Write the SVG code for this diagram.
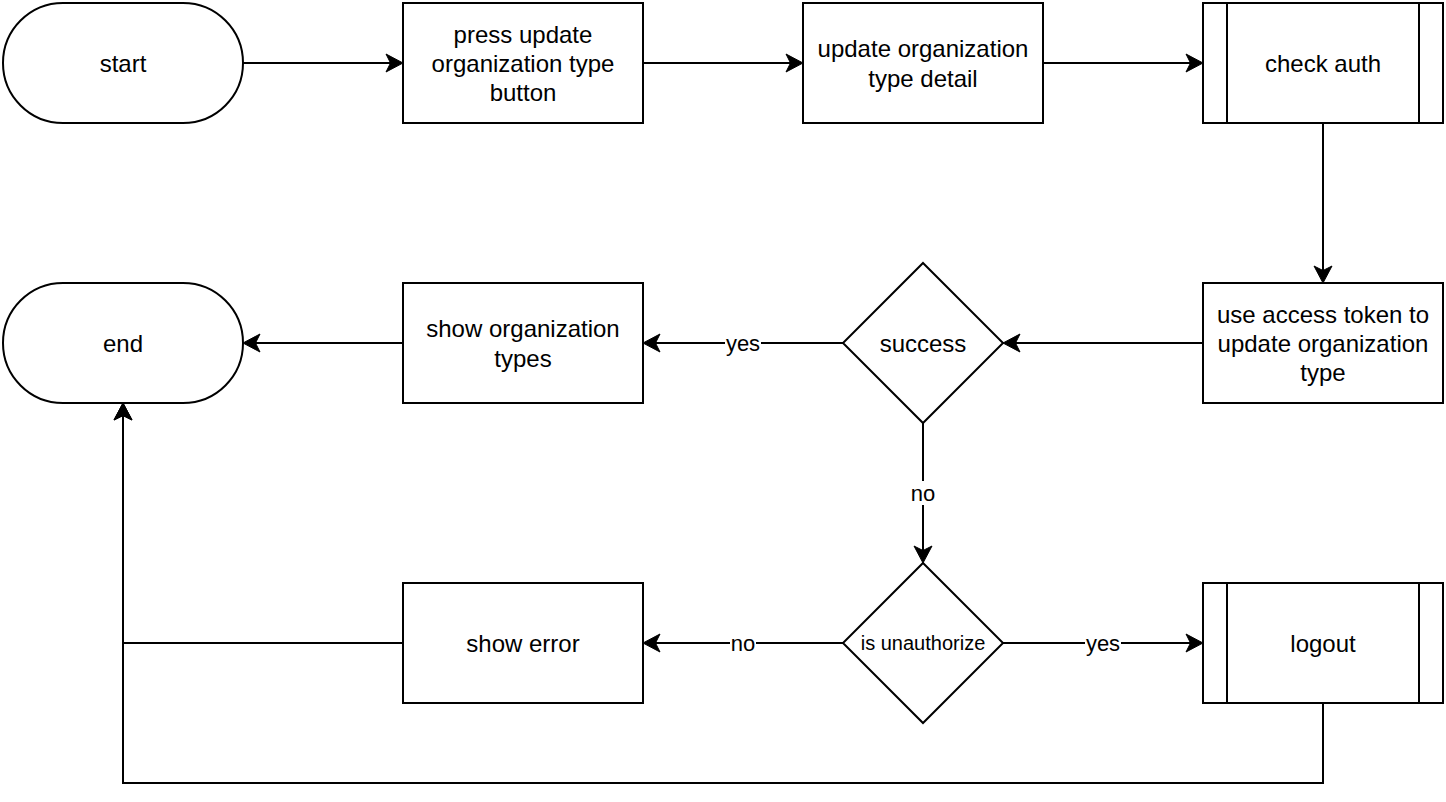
<svg xmlns="http://www.w3.org/2000/svg" width="1446" height="802" viewBox="0 0 1446 802">
<style>
.n{fill:#fff;stroke:#000;stroke-width:2}
.t{font-family:"Liberation Sans",Arial,sans-serif;font-size:24px;fill:#000;text-anchor:middle}
.s{font-size:20px}
.e{fill:none;stroke:#000;stroke-width:2}
.lb{fill:#fff}
.l{font-family:"Liberation Sans",Arial,sans-serif;font-size:22px;fill:#000;text-anchor:middle}
</style>
<defs>
<marker id="a" markerUnits="userSpaceOnUse" orient="auto" refX="0" refY="0" markerWidth="20" markerHeight="20" overflow="visible">
<path d="M4,0 L-13,-9 L-8.5,0 L-13,9 Z" fill="#000" stroke="#000" stroke-width="1"/>
</marker>
</defs>
<rect width="1446" height="802" fill="#fff"/>
<g id="connectors">
<path class="e" d="M243,63 H399" marker-end="url(#a)"/>
<path class="e" d="M643,63 H799" marker-end="url(#a)"/>
<path class="e" d="M1043,63 H1199" marker-end="url(#a)"/>
<path class="e" d="M1323,123 V279" marker-end="url(#a)"/>
<path class="e" d="M1203,343 H1007" marker-end="url(#a)"/>
<path class="e" d="M843,343 H647" marker-end="url(#a)"/>
<path class="e" d="M403,343 H247" marker-end="url(#a)"/>
<path class="e" d="M923,423 V559" marker-end="url(#a)"/>
<path class="e" d="M843,643 H647" marker-end="url(#a)"/>
<path class="e" d="M1003,643 H1199" marker-end="url(#a)"/>
<path class="e" d="M403,643 H123 V407" marker-end="url(#a)"/>
<path class="e" d="M1323,703 V783 H123 V407" marker-end="url(#a)"/>
<rect class="lb" x="725" y="331" width="36" height="24"/>
<text class="l" x="743" y="351">yes</text>
<rect class="lb" x="910" y="481" width="26" height="24"/>
<text class="l" x="923" y="501">no</text>
<rect class="lb" x="730" y="631" width="26" height="24"/>
<text class="l" x="743" y="651">no</text>
<rect class="lb" x="1085" y="631" width="36" height="24"/>
<text class="l" x="1103" y="651">yes</text>
</g>
<g id="start">
<rect class="n" x="3" y="3" width="240" height="120" rx="60" ry="60"/>
<text class="t" x="123" y="71.5">start</text>
</g>
<g id="press-update">
<rect class="n" x="403" y="3" width="240" height="120"/>
<text class="t" x="523" y="42.5">press update</text>
<text class="t" x="523" y="71.5">organization type</text>
<text class="t" x="523" y="100.5">button</text>
</g>
<g id="update-detail">
<rect class="n" x="803" y="3" width="240" height="120"/>
<text class="t" x="923" y="57">update organization</text>
<text class="t" x="923" y="86.5">type detail</text>
</g>
<g id="check-auth">
<rect class="n" x="1203" y="3" width="240" height="120"/>
<path class="e" d="M1227,3 V123 M1419,3 V123"/>
<text class="t" x="1323" y="71.5">check auth</text>
</g>
<g id="use-token">
<rect class="n" x="1203" y="283" width="240" height="120"/>
<text class="t" x="1323" y="322.5">use access token to</text>
<text class="t" x="1323" y="351.5">update organization</text>
<text class="t" x="1323" y="380.5">type</text>
</g>
<g id="success">
<path class="n" d="M923,263 L1003,343 L923,423 L843,343 Z"/>
<text class="t" x="923" y="351.5">success</text>
</g>
<g id="show-types">
<rect class="n" x="403" y="283" width="240" height="120"/>
<text class="t" x="523" y="337">show organization</text>
<text class="t" x="523" y="366.5">types</text>
</g>
<g id="end">
<rect class="n" x="3" y="283" width="240" height="120" rx="60" ry="60"/>
<text class="t" x="123" y="351.5">end</text>
</g>
<g id="is-unauthorize">
<path class="n" d="M923,563 L1003,643 L923,723 L843,643 Z"/>
<text class="t s" x="923" y="650">is unauthorize</text>
</g>
<g id="show-error">
<rect class="n" x="403" y="583" width="240" height="120"/>
<text class="t" x="523" y="651.5">show error</text>
</g>
<g id="logout">
<rect class="n" x="1203" y="583" width="240" height="120"/>
<path class="e" d="M1227,583 V703 M1419,583 V703"/>
<text class="t" x="1323" y="651.5">logout</text>
</g>
</svg>
